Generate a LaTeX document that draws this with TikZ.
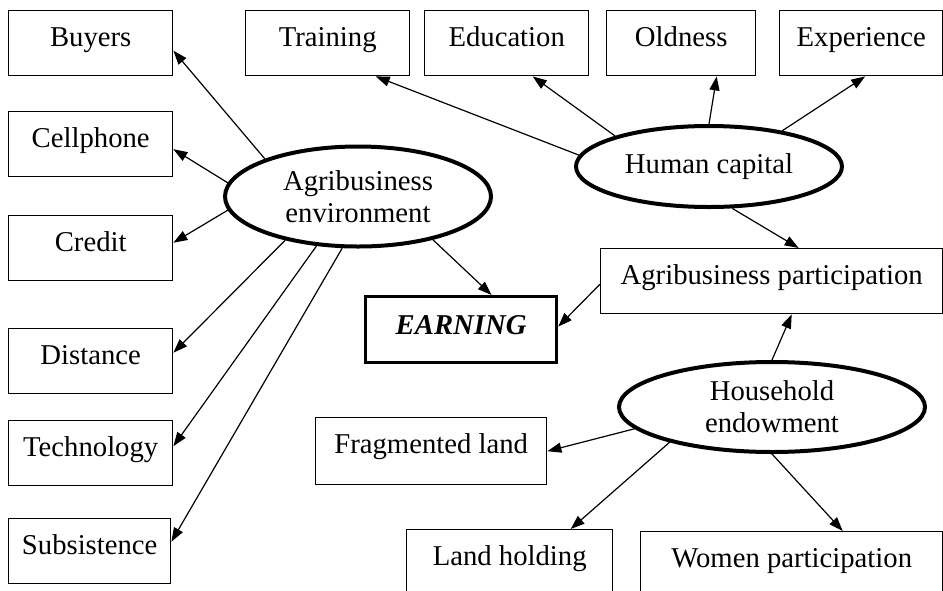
\documentclass[tikz,border=0pt]{standalone}
\usepackage{fontspec}
\setmainfont{Liberation Serif}
\usetikzlibrary{arrows.meta,shapes.geometric}
\begin{document}
\begin{tikzpicture}[x=1pt,y=-1pt,
  box/.style={draw, line width=1.4pt, inner sep=0pt, text height=36pt, text depth=29pt,
    font=\fontsize{28.7}{32}\selectfont, anchor=north west},
  oval/.style={draw, ellipse, line width=4pt, inner sep=0pt, align=center,
    font=\fontsize{28.7}{32}\selectfont},
  arr/.style={-{Triangle[length=14pt,width=10pt]}, line width=1.2pt}]
\clip (0,0) rectangle (943,590);
% left column
\node[box, minimum width=164pt] (buyers) at (8,10) {Buyers};
\node[box, minimum width=164pt] (cell) at (8,111) {Cellphone};
\node[box, minimum width=164pt] (credit) at (8,215) {Credit};
\node[box, minimum width=164pt] (dist) at (8,328) {Distance};
\node[box, minimum width=164pt] (tech) at (8,420) {Technology};
\node[box, minimum width=162pt] (subs) at (8,518) {Subsistence};
% top row
\node[box, minimum width=164pt] (train) at (245,10) {Training};
\node[box, minimum width=164pt] (edu) at (424,10) {Education};
\node[box, minimum width=149pt] (old) at (606,10) {Oldness};
\node[box, minimum width=163pt] (exp) at (779,10) {Experience};
% others
\node[box, minimum width=342pt] (part) at (600,248) {Agribusiness participation};
\node[box, minimum width=191pt, line width=3.2pt, text height=38pt, text depth=28pt,
  font=\fontsize{28.7}{32}\selectfont\bfseries\itshape] (earn) at (364,295) {EARNING};
\node[box, minimum width=231pt, text depth=31pt] (frag) at (315,417) {Fragmented land};
\node[box, minimum width=206pt] (land) at (406,529) {Land holding};
\node[box, minimum width=302pt] (women) at (640,531) {Women participation};
% ovals
\node[oval, minimum width=266pt, minimum height=100pt] (env) at (358,196.5) {Agribusiness\\environment};
\node[oval, minimum width=266pt, minimum height=81pt] (hc) at (709,166.5) {Human capital};
\node[oval, minimum width=306pt, minimum height=90pt] (hh) at (772,407) {Household\\endowment};
% arrows from agribusiness environment
\draw[arr] (env.158) -- ([yshift=-7.5pt]buyers.east);
\draw[arr] (env.174) -- ([yshift=-5pt]cell.east);
\draw[arr] (env.186) -- ([yshift=5.5pt]credit.east);
\draw[arr] (env.211) -- ([yshift=8.5pt]dist.east);
\draw[arr] (env.230) -- ([yshift=7pt]tech.east);
\draw[arr] (env.253) -- ([yshift=9.5pt]subs.east);
\draw[arr] (env.330) -- ([xshift=30.5pt]earn.north);
% arrows from human capital
\draw[arr] (hc.175) -- ([xshift=48pt]train.south);
\draw[arr] (hc.162) -- ([xshift=26pt]edu.south);
\draw[arr] (hc.90) -- ([xshift=35.5pt]old.south);
\draw[arr] (hc.26) -- ([xshift=4pt]exp.south);
\draw[arr] (hc.299) -- ([xshift=27pt]part.north);
% participation to earning
\draw[arr] ([yshift=-3pt]part.west) -- ([yshift=3pt]earn.east);
% arrows from household endowment
\draw[arr] (hh.90) -- ([xshift=20pt]part.south);
\draw[arr] (hh.189) -- (frag.east);
\draw[arr] (hh.199) -- ([xshift=61pt]land.north);
\draw[arr] (hh.270) -- ([xshift=51pt]women.north);
\end{tikzpicture}
\end{document}
